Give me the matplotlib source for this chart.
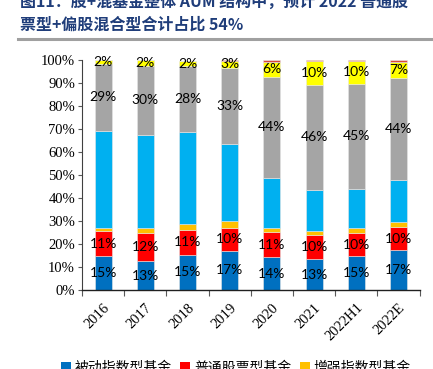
import numpy as np
import matplotlib.pyplot as plt
from matplotlib.patches import Patch

plt.rcParams['font.family'] = ['Noto Sans CJK SC', 'DejaVu Sans']

years = ['2016', '2017', '2018', '2019', '2020', '2021', '2022H1', '2022E']
series_names = ['被动指数型基金', '普通股票型基金', '增强指数型基金', '灵活配置型基金',
                '偏股混合型基金', '平衡混合型基金', '偏债混合型基金']
passive = [14.6, 12.6, 15.4, 17.0, 14.2, 13.3, 14.9, 17.2]
stock = [11.2, 12.3, 10.6, 10.0, 11.0, 10.4, 9.7, 10.3]
enhanced = [1.2, 2.1, 2.8, 3.0, 1.8, 2.0, 2.4, 2.2]
flexible = [42.3, 40.2, 40.1, 33.3, 21.6, 17.7, 17.1, 18.3]
partial_stock = [28.8, 30.4, 28.4, 33.1, 44.2, 45.9, 45.4, 44.0]
balanced = [1.9, 2.4, 2.2, 3.3, 6.2, 10.3, 10.2, 7.3]
bond_mixed = [0.0, 0.0, 0.0, 0.3, 1.0, 0.4, 0.3, 0.5]

colors = ['#0070C0', '#FF0000', '#FFC000', '#00B0F0', '#A5A5A5', '#FFFF00', '#D9483B']
show_label = [True, True, False, False, True, True, False]

data = [passive, stock, enhanced, flexible, partial_stock, balanced, bond_mixed]

fig = plt.figure(figsize=(4.33, 3.69), dpi=100)
ax = fig.add_axes([0.1894, 0.2141, 0.7796, 0.6233])

x = np.arange(len(years))
bottom = np.zeros(len(years))
for vals, c, lab in zip(data, colors, show_label):
    v = np.array(vals) / 100
    ax.bar(x, v, 0.40, bottom=bottom, color=c, edgecolor='#E6E6E6', linewidth=0.4)
    if lab:
        for xi, b, h in zip(x, bottom, v):
            ax.text(xi, b + h / 2, f'{round(h * 100):.0f}%', ha='center', va='center',
                    fontsize=10, family='Lato', color='black')
    bottom += v

ax.set_xlim(-0.5, len(years) - 0.5)
ax.set_ylim(0, 1)
ax.set_yticks(np.arange(0, 1.01, 0.1))
ax.set_yticklabels([f'{int(round(t * 100))}%' for t in np.arange(0, 1.01, 0.1)],
                   family='Liberation Serif', fontsize=10.5)
ax.tick_params(axis='y', length=3, width=0.8, color='#595959', pad=2)
ax.set_xticks(np.arange(-0.5, len(years)), minor=False)
ax.set_xticklabels([])
ax.set_xticks(x, minor=True)
ax.set_xticklabels(years, minor=True, rotation=45, ha='right', va='top',
                   rotation_mode='anchor', family='Liberation Serif', fontsize=10.5)
ax.tick_params(axis='x', which='major', length=4, width=0.8, color='#595959')
ax.tick_params(axis='x', which='minor', length=0, pad=8)
for s in ['top', 'right']:
    ax.spines[s].set_visible(False)
ax.spines['left'].set_color('#404040')
ax.spines['bottom'].set_color('#202020')
ax.spines['bottom'].set_linewidth(1.0)

# legend fills column by column, so reorder to get the first three series on row one
order = [0, 3, 6, 1, 4, 2, 5]
handles = [Patch(facecolor=colors[i]) for i in order]
labels = [series_names[i] for i in order]
fig.legend(handles, labels, ncol=3, loc='upper center', bbox_to_anchor=(0.545, 0.022),
           frameon=False, fontsize=10, handlelength=0.7, handleheight=0.7,
           handletextpad=0.3, columnspacing=0.6, borderpad=0, borderaxespad=0)

fig.text(0.046, 0.995, '图11：股+混基金整体 AUM 结构中，预计 2022 普通股', fontsize=11.5,
         fontweight='bold', color='#1F3D7A', va='center', ha='left')
fig.text(0.046, 0.932, '票型+偏股混合型合计占比 54%', fontsize=11.5,
         fontweight='bold', color='#1F3D7A', va='center', ha='left')
fig.add_artist(plt.Line2D([0.042, 1.0], [0.895, 0.895], color='#A0A0A0', linewidth=2.2))

fig.savefig('out.png', dpi=100)
